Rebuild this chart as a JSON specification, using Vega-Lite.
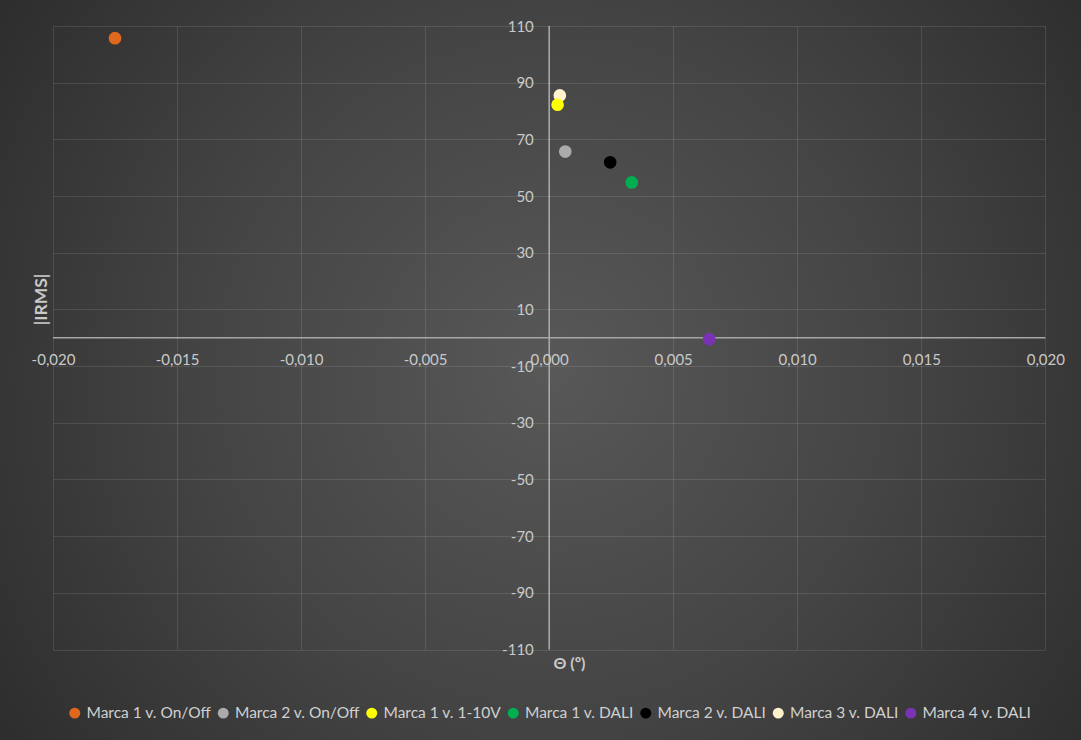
{
  "$schema": "https://vega.github.io/schema/vega-lite/v6.json",
  "width": 992.3,
  "height": 623.5,
  "autosize": {"type": "none"},
  "padding": {"left": 53, "top": 26, "right": 35.7, "bottom": 90.5},
  "background": "#2a2a2a",
  "config": {
    "font": "Lato",
    "view": {"stroke": null},
    "locale": {
      "number": {"decimal": ",", "thousands": ".", "grouping": [3], "currency": ["", " €"], "minus": "-"}
    }
  },
  "layer": [
    {
      "data": {"values": [{}]},
      "mark": {
        "type": "rect",
        "fill": {
          "gradient": "radial",
          "x1": 0.51, "y1": 0.5, "r1": 0,
          "x2": 0.51, "y2": 0.5, "r2": 0.72,
          "stops": [
            {"offset": 0, "color": "#585858"},
            {"offset": 0.45, "color": "#444444"},
            {"offset": 1, "color": "#252525"}
          ]
        }
      },
      "encoding": {
        "x": {"datum": -0.02214, "type": "quantitative", "scale": {"domain": [-0.02, 0.02], "nice": false, "zero": false}},
        "x2": {"datum": 0.02145},
        "y": {"datum": 119.2, "type": "quantitative", "scale": {"domain": [-110, 110], "nice": false, "zero": false}},
        "y2": {"datum": -142.1}
      }
    },
    {
      "data": {"values": [{}]},
      "mark": {"type": "rule", "color": "#A6A6A6", "strokeWidth": 1.5},
      "encoding": {"y": {"datum": 0, "type": "quantitative"}}
    },
    {
      "data": {"values": [{}]},
      "mark": {"type": "rule", "color": "#A6A6A6", "strokeWidth": 1.5},
      "encoding": {"x": {"datum": 0, "type": "quantitative"}}
    },
    {
      "data": {
        "values": [
          {"serie": "Marca 1 v. On/Off", "theta": -0.0175, "irms": 105.7},
          {"serie": "Marca 2 v. On/Off", "theta": 0.00065, "irms": 65.7},
          {"serie": "Marca 3 v. DALI", "theta": 0.00043, "irms": 85.5},
          {"serie": "Marca 1 v. 1-10V", "theta": 0.00034, "irms": 82.2},
          {"serie": "Marca 1 v. DALI", "theta": 0.00333, "irms": 54.8},
          {"serie": "Marca 2 v. DALI", "theta": 0.00246, "irms": 61.9},
          {"serie": "Marca 4 v. DALI", "theta": 0.00645, "irms": -0.5}
        ]
      },
      "mark": {"type": "circle", "size": 160, "opacity": 1},
      "encoding": {
        "x": {
          "field": "theta", "type": "quantitative",
          "axis": {
            "title": "Θ (º)", "orient": "bottom", "offset": -311.75,
            "values": [-0.02, -0.015, -0.01, -0.005, 0, 0.005, 0.01, 0.015, 0.02],
            "format": ".3f",
            "grid": true, "gridColor": "#ffffff", "gridOpacity": 0.11, "gridWidth": 1,
            "domain": false, "ticks": false, "tickSize": 0,
            "labelColor": "#C9C9C9", "labelFontSize": 15, "labelPadding": 15, "labelFlush": false, "labelFont": "Lato",
            "titleColor": "#C9C9C9", "titleFontSize": 16, "titleFontWeight": "bold", "titleFont": "Lato",
            "titleX": 516, "titleY": 325.5, "titleBaseline": "middle", "titleAlign": "center",
            "zindex": 1
          }
        },
        "y": {
          "field": "irms", "type": "quantitative",
          "axis": {
            "title": "|IRMS|", "orient": "left", "offset": -496.3,
            "values": [-110, -90, -70, -50, -30, -10, 10, 30, 50, 70, 90, 110],
            "format": "d",
            "grid": true, "gridColor": "#ffffff", "gridOpacity": 0.11, "gridWidth": 1,
            "domain": false, "ticks": false, "tickSize": 0,
            "labelColor": "#C9C9C9", "labelFontSize": 15, "labelPadding": 16, "labelFlush": false, "labelFont": "Lato",
            "titleColor": "#C9C9C9", "titleFontSize": 17.5, "titleFontWeight": "bold", "titleFont": "Lato",
            "titleX": -508.3, "titleY": 273, "titleAngle": 270, "titleBaseline": "middle", "titleAlign": "center",
            "zindex": 1
          }
        },
        "color": {
          "field": "serie", "type": "nominal",
          "scale": {
            "domain": ["Marca 1 v. On/Off", "Marca 2 v. On/Off", "Marca 1 v. 1-10V", "Marca 1 v. DALI", "Marca 2 v. DALI", "Marca 3 v. DALI", "Marca 4 v. DALI"],
            "range": ["#E0681E", "#ABABAB", "#FFFF00", "#00B050", "#000000", "#FFF2CC", "#7A33B5"]
          },
          "legend": {
            "title": null, "orient": "none", "legendX": 14, "legendY": 679,
            "direction": "horizontal", "columns": 7,
            "symbolType": "circle", "symbolSize": 120, "symbolStrokeWidth": 0, "symbolOpacity": 1,
            "labelFontSize": 15.5, "labelColor": "#D0D0D0", "labelFont": "Lato", "labelLimit": 300,
            "columnPadding": 3.5, "labelOffset": 4, "padding": 0
          }
        }
      }
    }
  ]
}
